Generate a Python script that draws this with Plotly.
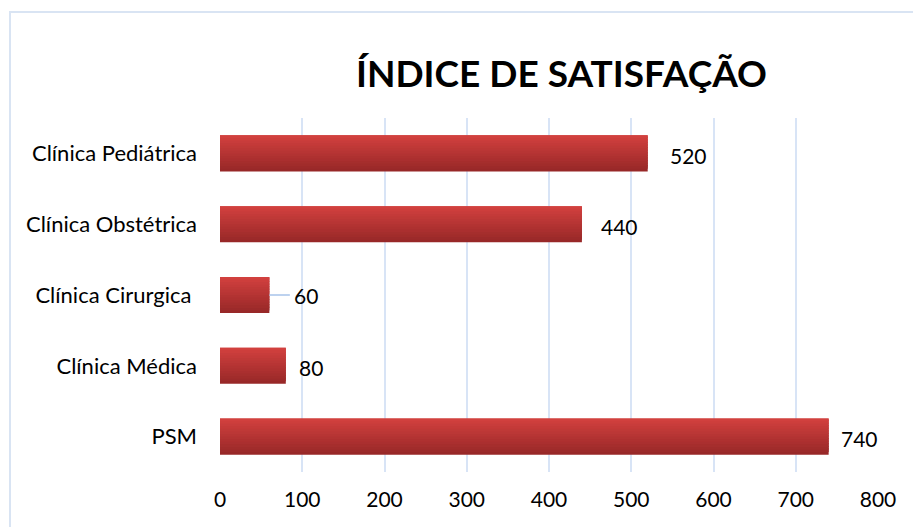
import plotly.graph_objects as go

categories = ["PSM", "Clínica Médica", "Clínica Cirurgica\u00a0", "Clínica Obstétrica", "Clínica Pediátrica"]
values = [740, 80, 60, 440, 520]
x_ticks = [0, 100, 200, 300, 400, 500, 600, 700, 800]
title_text = "ÍNDICE DE SATISFAÇÃO"

FONT = "Lato, Carlito, Calibri, sans-serif"

# vertical gradient built from thin overlaid strips
top_rgb = (209, 64, 62)
bot_rgb = (152, 40, 40)
N = 14
bar_w = 0.51
step = bar_w / N
fig = go.Figure()
for i in range(N):
    t = i / (N - 1)
    r = round(bot_rgb[0] + (top_rgb[0] - bot_rgb[0]) * t)
    g = round(bot_rgb[1] + (top_rgb[1] - bot_rgb[1]) * t)
    b = round(bot_rgb[2] + (top_rgb[2] - bot_rgb[2]) * t)
    off = -bar_w / 2 + i * step
    w = min(step * 2.5, bar_w / 2 - off)
    fig.add_trace(go.Bar(
        x=values, y=categories, orientation="h",
        width=w, offset=off,
        marker=dict(color=f"rgb({r},{g},{b})", line=dict(width=0)),
        hoverinfo="skip" if i else "x+y", showlegend=False,
    ))

label_shift = [10, 11, 0, 17, 20]
for c, v, s in zip(categories, values, label_shift):
    if s == 0:
        fig.add_annotation(x=v, y=c, text=str(v), showarrow=True, ax=37, ay=0,
                           arrowhead=0, arrowwidth=1.6, arrowcolor="#a8c3ea",
                           standoff=0, borderpad=4,
                           font=dict(family=FONT, size=21, color="#000"))
    else:
        fig.add_annotation(x=v, y=c, text=str(v), showarrow=False, xanchor="left",
                           xshift=s, yshift=-2,
                           font=dict(family=FONT, size=21, color="#000"))

fig.add_annotation(text=f"<b>{title_text}</b>", xref="paper", yref="paper",
                   x=(561 - 220) / 658, y=(472 - 72) / 354, xanchor="center", yanchor="middle",
                   showarrow=False, font=dict(family=FONT, size=37, color="#000"))

# outer chart border (cropped in reference)
fig.add_shape(type="rect", xref="paper", yref="paper",
              x0=(10 - 220) / 658, x1=(930 - 220) / 658,
              y0=(472 - 540) / 354, y1=(472 - 12) / 354,
              line=dict(color="#d9e4f3", width=2), fillcolor="rgba(0,0,0,0)", layer="below")

fig.update_layout(
    width=913, height=527,
    margin=dict(l=220, r=35, t=118, b=55),
    paper_bgcolor="white", plot_bgcolor="white",
    barmode="overlay",
    font=dict(family=FONT, size=18, color="#000"),
    xaxis=dict(range=[0, 800], tickvals=x_ticks, showgrid=True, gridcolor="#d8e4f6",
               gridwidth=2, zeroline=False, showline=False, ticks="",
               tickfont=dict(family=FONT, size=21), ticklabelstandoff=13, fixedrange=True),
    yaxis=dict(categoryorder="array", categoryarray=categories, showgrid=False,
               zeroline=False, showline=False, ticks="", ticklabelstandoff=22,
               tickfont=dict(family=FONT, size=22), range=[-0.5, 4.5], fixedrange=True),
)

fig.write_html("out.html", config={"displayModeBar": False},
               post_script="document.body.style.margin='0';document.body.style.overflow='hidden';")
